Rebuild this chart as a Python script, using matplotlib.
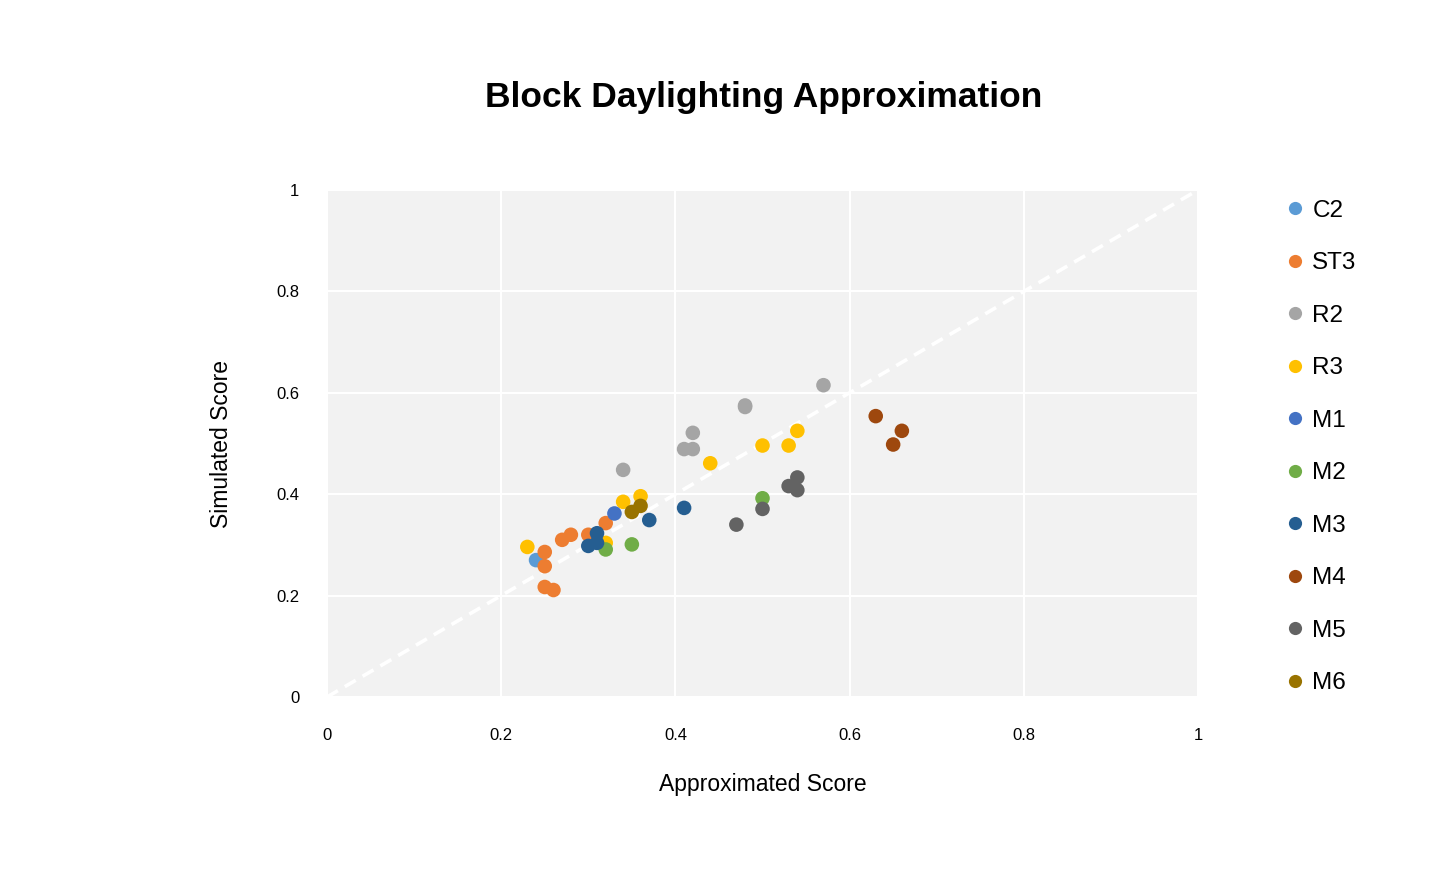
import matplotlib
matplotlib.use("Agg")
import matplotlib.pyplot as plt
from matplotlib.lines import Line2D

plt.rcParams['font.family'] = ['Liberation Sans', 'DejaVu Sans']

series_names = ["C2", "ST3", "R2", "R3", "M1", "M2", "M3", "M4", "M5", "M6"]
colors = ["#5B9BD5", "#ED7D31", "#A5A5A5", "#FFC000", "#4472C4",
          "#70AD47", "#255E91", "#9E480E", "#636363", "#997300"]

c2_x = [0.24]
c2_y = [0.27]
st3_x = [0.25, 0.25, 0.25, 0.26, 0.27, 0.28, 0.30, 0.32]
st3_y = [0.286, 0.258, 0.217, 0.211, 0.31, 0.32, 0.32, 0.343]
r2_x = [0.34, 0.41, 0.42, 0.42, 0.48, 0.48, 0.57]
r2_y = [0.448, 0.489, 0.489, 0.521, 0.575, 0.572, 0.615]
r3_x = [0.23, 0.32, 0.34, 0.36, 0.44, 0.50, 0.53, 0.54]
r3_y = [0.296, 0.304, 0.385, 0.396, 0.461, 0.496, 0.496, 0.525]
m1_x = [0.33]
m1_y = [0.362]
m2_x = [0.32, 0.35, 0.50]
m2_y = [0.291, 0.301, 0.392]
m3_x = [0.31, 0.30, 0.31, 0.37, 0.41]
m3_y = [0.323, 0.298, 0.304, 0.349, 0.373]
m4_x = [0.63, 0.66, 0.65]
m4_y = [0.554, 0.525, 0.498]
m5_x = [0.47, 0.50, 0.53, 0.54, 0.54]
m5_y = [0.34, 0.371, 0.416, 0.433, 0.408]
m6_x = [0.35, 0.36]
m6_y = [0.365, 0.377]

xs = [c2_x, st3_x, r2_x, r3_x, m1_x, m2_x, m3_x, m4_x, m5_x, m6_x]
ys = [c2_y, st3_y, r2_y, r3_y, m1_y, m2_y, m3_y, m4_y, m5_y, m6_y]

ticks = [0, 0.2, 0.4, 0.6, 0.8, 1]
tick_labels = ["0", "0.2", "0.4", "0.6", "0.8", "1"]

fig = plt.figure(figsize=(14.4, 8.74), dpi=100)
ax = fig.add_axes([327/1440, 1-697/874, (1198-327)/1440, (697-190)/874])
ax.set_facecolor("#F2F2F2")

ax.plot([0, 1], [0, 1], color="white", lw=2.6, ls=(0, (3.5, 2.2)), zorder=2)

for name, col, x, y in zip(series_names, colors, xs, ys):
    ax.scatter(x, y, s=110, color=col, edgecolors="none", zorder=3, label=name)

ax.set_xlim(0, 1)
ax.set_ylim(0, 1)
ax.set_xticks(ticks)
ax.set_xticklabels(tick_labels)
ax.set_yticks(ticks)
ax.set_yticklabels(tick_labels)
ax.grid(True, color="white", lw=1.5, zorder=1)
ax.set_axisbelow(True)
for s in ax.spines.values():
    s.set_visible(False)
ax.tick_params(axis="both", length=0, labelsize=12)
ax.tick_params(axis="y", pad=20)
ax.tick_params(axis="x", pad=22)

ax.set_xlabel("Approximated Score", fontsize=16.5, labelpad=22)
ax.set_ylabel("Simulated Score", fontsize=16.5, labelpad=31)

fig.text(764/1440, 1-98/874, "Block Daylighting Approximation", ha="center",
         va="center", fontsize=25.5, fontweight="bold")

handles = [Line2D([], [], marker="o", ls="none", color=c, markersize=9.5,
                  markeredgewidth=0) for c in colors]
fig.legend(handles, series_names, loc="upper left",
           bbox_to_anchor=(1271/1440, 1-190/874), frameon=False,
           fontsize=17.5, labelspacing=1.255, handletextpad=0.1,
           handlelength=1.2, borderaxespad=0)

fig.savefig("out.png", dpi=100)
